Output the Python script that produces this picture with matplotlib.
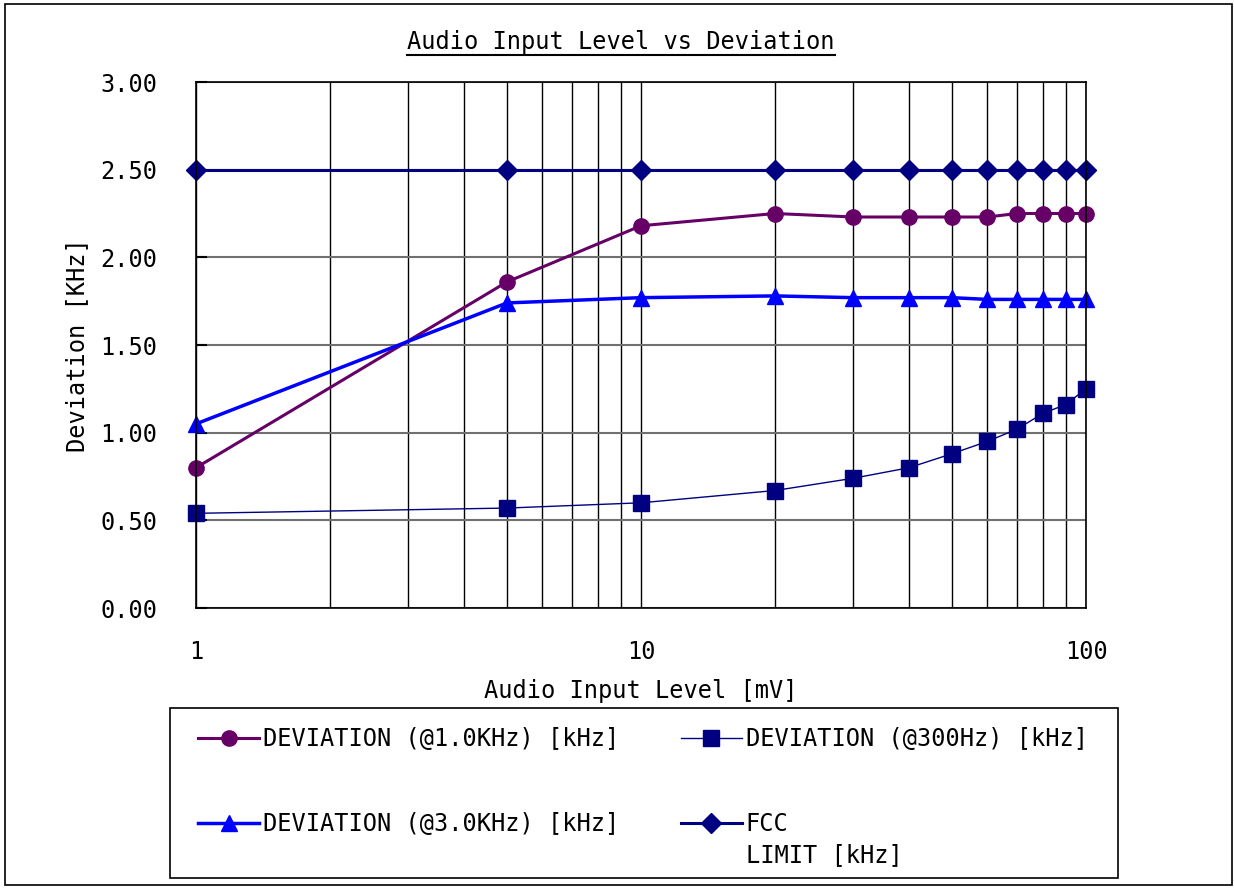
import numpy as np
import matplotlib
matplotlib.use("Agg")
import matplotlib.pyplot as plt
from matplotlib.patches import Rectangle
from matplotlib.lines import Line2D
from matplotlib.ticker import FixedLocator, NullFormatter

plt.rcParams['font.family'] = 'DejaVu Sans Mono'

# input level [mV]
level = [1, 5, 10, 20, 30, 40, 50, 60, 70, 80, 90, 100]
# deviation [kHz]
dev_1k = [0.80, 1.86, 2.18, 2.25, 2.23, 2.23, 2.23, 2.23, 2.25, 2.25, 2.25, 2.25]
dev_300 = [0.54, 0.57, 0.60, 0.67, 0.74, 0.80, 0.88, 0.95, 1.02, 1.11, 1.16, 1.25]
dev_3k = [1.05, 1.74, 1.77, 1.78, 1.77, 1.77, 1.77, 1.76, 1.76, 1.76, 1.76, 1.76]
fcc_limit = [2.50] * len(level)

W, H = 1234, 888
fig = plt.figure(figsize=(W / 100, H / 100), dpi=100)
ax = fig.add_axes([196 / W, 1 - 608 / H, 890 / W, 526 / H])

# outer frame of the chart
fig.patches.append(Rectangle((5 / W, 3 / H), 1227 / W, 881 / H,
                             transform=fig.transFigure, fill=False,
                             edgecolor='black', linewidth=1.2))
# legend frame
fig.patches.append(Rectangle((170 / W, 1 - 878 / H), 948 / W, 170 / H,
                             transform=fig.transFigure, fill=False,
                             edgecolor='black', linewidth=1.2))

l1, = ax.plot(level, dev_1k, color='#660066', lw=2.2, marker='o', ms=11,
              label='DEVIATION (@1.0KHz) [kHz]')
l3, = ax.plot(level, dev_3k, color='#0000FF', lw=2.5, marker='^', ms=12,
              label='DEVIATION (@3.0KHz) [kHz]')
l2, = ax.plot(level, dev_300, color='#000080', lw=1, marker='s', ms=11,
              label='DEVIATION (@300Hz) [kHz]')
l4, = ax.plot(level, fcc_limit, color='#000080', lw=2.2, marker='D', ms=10,
              label='FCC')
for ln in (l1, l2, l3, l4):
    ln.set_clip_on(False)

ax.set_xscale('log')
ax.set_xlim(1, 100)
ax.set_ylim(0, 3)
ax.set_xticks([1, 10, 100])
ax.set_xticklabels(['1', '10', '100'])
ax.xaxis.set_minor_locator(FixedLocator([2, 3, 4, 5, 6, 7, 8, 9,
                                         20, 30, 40, 50, 60, 70, 80, 90]))
ax.xaxis.set_minor_formatter(NullFormatter())
ax.set_yticks(np.arange(0, 3.01, 0.5))
ax.set_yticklabels(['%.2f' % v for v in np.arange(0, 3.01, 0.5)])

ax.grid(True, axis='x', which='both', color='black', lw=1)
ax.grid(True, axis='y', which='major', color='#707070', lw=1.5)
ax.set_axisbelow(True)
for s in ax.spines.values():
    s.set_color('black')
    s.set_linewidth(1.2)

ax.tick_params(axis='y', direction='in', length=8, width=1.5, pad=28, labelsize=17)
ax.tick_params(axis='x', which='both', length=0, pad=23, labelsize=17)

ax.set_xlabel('Audio Input Level [mV]', fontsize=17, labelpad=11)
ax.set_ylabel('Deviation [KHz]', fontsize=17, labelpad=8)

title = fig.text(621 / W, 1 - 42 / H, 'Audio Input Level vs Deviation',
                 ha='center', va='center', fontsize=17)

leg = fig.legend(handles=[l1, l3, l2, l4], ncol=2, loc='upper left',
                 bbox_to_anchor=(198 / W, 1 - 727 / H),
                 fontsize=17, frameon=False,
                 labelspacing=2.6, handlelength=2.6, handletextpad=0.15,
                 borderpad=0, borderaxespad=0, columnspacing=2.6)

fig.canvas.draw()
r = fig.canvas.get_renderer()
bb = title.get_window_extent(renderer=r)
fig.add_artist(Line2D([bb.x0 / W, bb.x1 / W], [1 - 55 / H, 1 - 55 / H],
                      transform=fig.transFigure, color='black', lw=1.5))

# second line of the FCC label
fcc_txt = leg.get_texts()[3]
tb = fcc_txt.get_window_extent(renderer=r)
fig.text(tb.x0 / W, (tb.y0 + tb.y1) / 2 / H - 31 / H, 'LIMIT [kHz]',
         ha='left', va='center', fontsize=17)

fig.savefig('out.png', dpi=100)
